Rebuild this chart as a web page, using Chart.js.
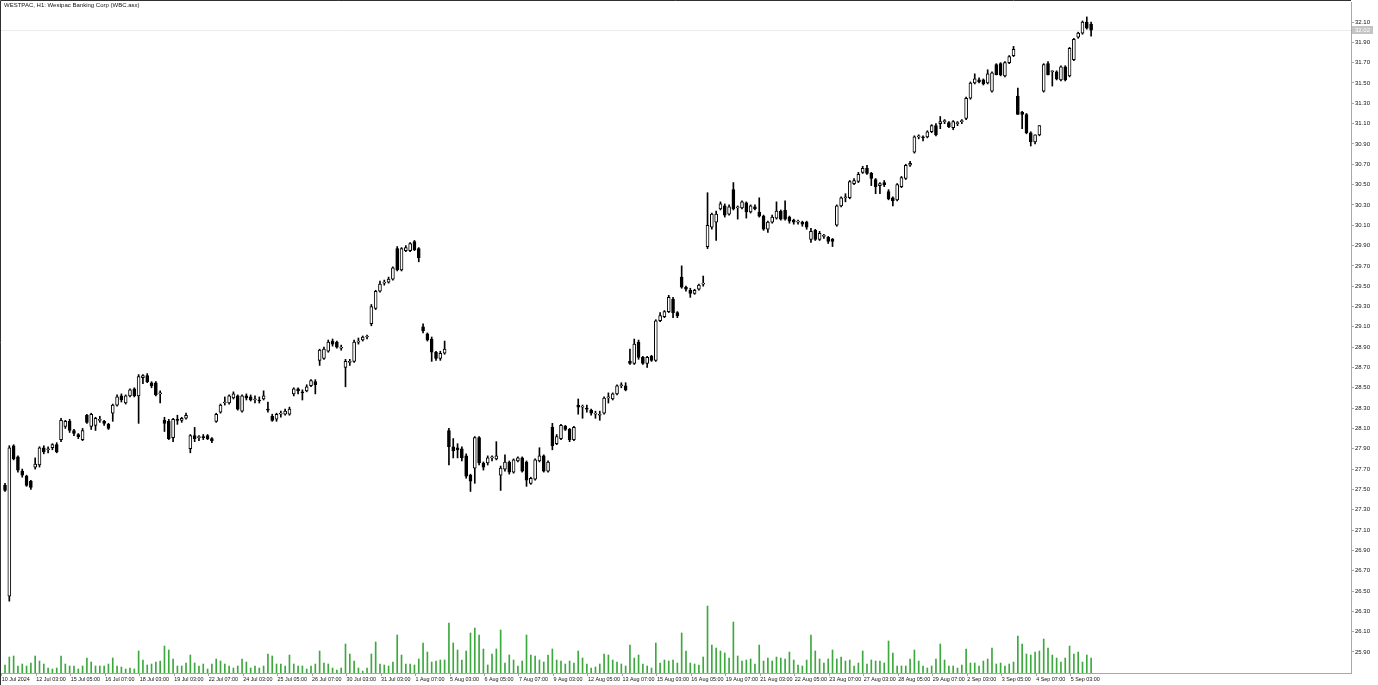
<!DOCTYPE html>
<html>
<head>
<meta charset="utf-8">
<title>WESTPAC, H1</title>
<script src="https://cdn.jsdelivr.net/npm/chart.js@4.4.1/dist/chart.umd.min.js"></script>
<style>
  html, body { margin: 0; padding: 0; background: #fff; overflow: hidden; }
  #wrap { position: relative; width: 1378px; height: 685px; }
  #title { position: absolute; left: 4px; top: 2px; font: 6px "Liberation Sans", Arial, sans-serif; color: #111; white-space: nowrap; }
</style>
</head>
<body>
<div id="wrap">
  <canvas id="chart" width="1378" height="685" style="width:1378px;height:685px"></canvas>
  <div id="title">WESTPAC, H1:  Westpac Banking Corp (WBC.asx)</div>
</div>
<script>
// hourly bars, [open, high, low, close]
const candles = [
  [27.54,27.56,27.48,27.49],[26.45,27.93,26.40,27.91],[27.93,27.94,27.79,27.80],[27.82,27.83,27.67,27.69],
  [27.68,27.70,27.62,27.64],[27.63,27.64,27.53,27.54],[27.58,27.59,27.50,27.52],[27.72,27.81,27.70,27.75],
  [27.74,27.92,27.72,27.91],[27.91,27.93,27.85,27.87],[27.89,27.92,27.86,27.90],[27.91,27.95,27.89,27.94],
  [27.94,27.96,27.86,27.87],[27.99,28.20,27.97,28.18],[28.12,28.18,28.10,28.17],[28.17,28.19,28.06,28.08],
  [28.08,28.09,28.03,28.05],[28.04,28.05,28.00,28.02],[27.99,28.10,27.98,28.08],[28.23,28.24,28.15,28.16],
  [28.12,28.25,28.09,28.24],[28.13,28.21,28.08,28.20],[28.18,28.22,28.16,28.19],[28.17,28.18,28.13,28.15],
  [28.14,28.15,28.09,28.10],[28.25,28.34,28.17,28.33],[28.33,28.43,28.32,28.41],[28.42,28.44,28.36,28.38],
  [28.35,28.43,28.34,28.42],[28.42,28.49,28.41,28.48],[28.49,28.50,28.41,28.42],[28.42,28.63,28.15,28.61],
  [28.60,28.63,28.54,28.62],[28.62,28.64,28.55,28.56],[28.55,28.56,28.50,28.52],[28.55,28.56,28.42,28.43],
  [28.44,28.47,28.35,28.45],[28.18,28.21,28.07,28.15],[28.17,28.19,27.99,28.00],[28.01,28.20,27.97,28.19],
  [28.19,28.23,28.14,28.18],[28.18,28.21,28.16,28.20],[28.20,28.25,28.19,28.23],[27.90,28.04,27.86,28.03],
  [28.03,28.11,27.97,28.00],[28.01,28.03,27.98,28.02],[28.02,28.04,27.99,28.01],[28.03,28.04,27.99,28.00],
  [28.00,28.01,27.96,27.98],[28.17,28.25,28.16,28.24],[28.26,28.34,28.25,28.33],[28.35,28.41,28.33,28.36],
  [28.35,28.43,28.34,28.42],[28.40,28.46,28.39,28.44],[28.42,28.43,28.28,28.29],[28.27,28.43,28.26,28.42],
  [28.42,28.44,28.38,28.40],[28.41,28.43,28.37,28.38],[28.38,28.42,28.35,28.39],[28.38,28.41,28.35,28.37],
  [28.39,28.47,28.38,28.42],[28.29,28.36,28.26,28.28],[28.22,28.24,28.17,28.18],[28.19,28.25,28.17,28.24],
  [28.24,28.27,28.21,28.25],[28.24,28.29,28.23,28.27],[28.24,28.31,28.23,28.29],[28.44,28.50,28.42,28.49],
  [28.49,28.50,28.44,28.47],[28.46,28.48,28.38,28.45],[28.47,28.53,28.46,28.51],[28.52,28.58,28.51,28.57],
  [28.56,28.58,28.44,28.53],[28.77,28.88,28.72,28.87],[28.79,28.90,28.78,28.88],[28.86,28.97,28.85,28.95],
  [28.96,28.98,28.91,28.93],[28.95,28.96,28.89,28.90],[28.89,28.92,28.87,28.90],[28.70,28.78,28.51,28.76],
  [28.75,28.78,28.72,28.76],[28.76,28.97,28.75,28.95],[28.95,28.99,28.93,28.96],[28.97,29.01,28.96,29.00],
  [29.00,29.02,28.98,29.01],[29.13,29.32,29.11,29.30],[29.28,29.46,29.27,29.45],[29.45,29.55,29.44,29.52],
  [29.53,29.56,29.51,29.54],[29.54,29.59,29.53,29.57],[29.57,29.69,29.56,29.68],[29.87,29.89,29.65,29.66],
  [29.66,29.88,29.65,29.87],[29.85,29.90,29.84,29.88],[29.85,29.93,29.84,29.92],[29.94,29.95,29.85,29.86],
  [29.87,29.88,29.74,29.78],[29.10,29.13,29.04,29.06],[29.03,29.04,28.96,28.97],[28.98,29.00,28.76,28.85],
  [28.85,28.86,28.77,28.79],[28.79,28.86,28.77,28.84],[28.84,28.96,28.83,28.88],[28.08,28.10,27.74,27.92],
  [27.92,28.00,27.81,27.88],[27.91,27.95,27.81,27.89],[27.90,27.92,27.78,27.81],[27.83,27.85,27.61,27.63],
  [27.64,27.65,27.48,27.58],[27.71,28.02,27.56,28.01],[28.01,28.02,27.74,27.76],[27.76,27.77,27.69,27.72],
  [27.76,27.83,27.74,27.81],[27.81,27.83,27.78,27.82],[27.80,27.97,27.79,27.83],[27.64,27.73,27.49,27.71],
  [27.70,27.84,27.68,27.77],[27.77,27.78,27.65,27.67],[27.67,27.80,27.66,27.79],[27.78,27.82,27.77,27.81],
  [27.81,27.82,27.67,27.68],[27.77,27.78,27.53,27.59],[27.56,27.62,27.55,27.61],[27.60,27.80,27.59,27.79],
  [27.78,27.91,27.77,27.83],[27.83,27.84,27.67,27.68],[27.68,27.78,27.67,27.77],[28.11,28.15,27.89,27.93],
  [27.95,28.04,27.94,28.02],[28.00,28.14,27.99,28.13],[28.12,28.13,28.08,28.09],[28.09,28.10,27.97,27.99],
  [27.99,28.12,27.98,28.11],[28.33,28.39,28.24,28.31],[28.31,28.33,28.20,28.32],[28.30,28.33,28.26,28.29],
  [28.28,28.29,28.23,28.25],[28.24,28.27,28.20,28.25],[28.23,28.27,28.18,28.24],[28.25,28.41,28.24,28.40],
  [28.40,28.45,28.35,28.41],[28.39,28.45,28.38,28.44],[28.44,28.53,28.43,28.52],[28.52,28.55,28.50,28.53],
  [28.52,28.55,28.47,28.48],[28.76,28.88,28.73,28.74],[28.74,28.98,28.73,28.93],[28.95,28.97,28.78,28.80],
  [28.80,28.81,28.73,28.74],[28.74,28.81,28.70,28.80],[28.81,28.82,28.76,28.77],[28.77,29.17,28.76,29.16],
  [29.16,29.24,29.15,29.21],[29.20,29.26,29.19,29.25],[29.25,29.41,29.24,29.39],[29.37,29.39,29.19,29.24],
  [29.24,29.25,29.19,29.21],[29.59,29.70,29.48,29.49],[29.49,29.50,29.45,29.47],[29.46,29.48,29.39,29.43],
  [29.43,29.47,29.42,29.46],[29.47,29.52,29.46,29.51],[29.52,29.60,29.50,29.53],[29.89,30.42,29.87,30.10],
  [30.08,30.22,30.06,30.21],[30.13,30.24,29.95,30.21],[30.26,30.33,30.25,30.31],[30.29,30.31,30.18,30.20],
  [30.21,30.30,30.20,30.28],[30.45,30.52,30.25,30.26],[30.27,30.29,30.16,30.28],[30.27,30.34,30.26,30.33],
  [30.32,30.33,30.17,30.23],[30.23,30.30,30.22,30.29],[30.28,30.30,30.25,30.26],[30.23,30.37,30.18,30.19],
  [30.19,30.20,30.05,30.06],[30.06,30.14,30.03,30.13],[30.13,30.20,30.12,30.18],[30.17,30.33,30.16,30.24],
  [30.24,30.25,30.15,30.16],[30.25,30.34,30.15,30.16],[30.18,30.19,30.12,30.14],[30.15,30.16,30.11,30.13],
  [30.13,30.15,30.11,30.14],[30.13,30.14,30.09,30.11],[30.13,30.14,30.06,30.08],[29.96,30.07,29.93,30.04],
  [30.05,30.06,29.95,29.96],[29.96,30.04,29.95,30.02],[29.99,30.01,29.97,30.00],[29.98,29.99,29.92,29.94],
  [29.96,29.97,29.89,29.94],[30.10,30.30,30.09,30.29],[30.29,30.38,30.28,30.37],[30.37,30.41,30.33,30.38],
  [30.37,30.54,30.36,30.53],[30.51,30.56,30.50,30.54],[30.53,30.62,30.52,30.60],[30.62,30.68,30.61,30.66],
  [30.66,30.69,30.60,30.61],[30.61,30.62,30.49,30.56],[30.55,30.56,30.41,30.48],[30.49,30.52,30.41,30.51],
  [30.52,30.54,30.48,30.50],[30.43,30.45,30.35,30.36],[30.37,30.38,30.29,30.34],[30.35,30.51,30.34,30.50],
  [30.48,30.58,30.47,30.57],[30.56,30.70,30.55,30.69],[30.69,30.73,30.68,30.71],[30.82,30.98,30.81,30.97],
  [30.97,30.99,30.95,30.98],[30.97,30.98,30.93,30.96],[30.97,31.03,30.96,31.02],[31.02,31.09,31.01,31.08],
  [31.08,31.10,30.98,30.99],[31.10,31.17,31.05,31.12],[31.12,31.14,31.10,31.13],[31.11,31.12,31.06,31.07],
  [31.06,31.13,31.04,31.12],[31.10,31.12,31.08,31.11],[31.12,31.14,31.10,31.13],[31.15,31.36,31.14,31.35],
  [31.35,31.51,31.34,31.50],[31.50,31.59,31.49,31.54],[31.53,31.55,31.50,31.51],[31.53,31.54,31.48,31.49],
  [31.50,31.63,31.49,31.59],[31.42,31.61,31.41,31.60],[31.68,31.69,31.58,31.58],[31.69,31.70,31.57,31.58],
  [31.57,31.71,31.56,31.70],[31.70,31.77,31.69,31.76],[31.77,31.86,31.76,31.83],[31.37,31.45,31.19,31.19],
  [31.21,31.22,31.05,31.19],[31.19,31.20,31.00,31.01],[31.01,31.02,30.88,30.92],[30.92,30.99,30.90,30.99],
  [30.99,31.08,30.98,31.08],[31.42,31.69,31.41,31.68],[31.69,31.71,31.58,31.58],[31.61,31.62,31.47,31.62],
  [31.61,31.62,31.53,31.54],[31.53,31.67,31.52,31.66],[31.66,31.67,31.52,31.53],[31.57,31.85,31.56,31.84],
  [31.73,31.94,31.72,31.93],[31.95,32.00,31.94,31.99],[31.99,32.11,31.98,32.10],[32.10,32.15,32.03,32.04],
  [32.08,32.10,31.96,32.02]
];

// tick volume per bar
const volumes = [
  8,16,17,7,9,7,10,17,12,9, 5,4,5,17,9,7,7,4,7,15, 11,7,7,7,9,15,7,6,4,5,
  4,22,13,8,9,11,12,27,23,14, 7,7,10,18,10,7,9,4,9,14, 12,9,7,5,7,14,11,5,7,5,
  7,19,17,9,9,7,18,9,7,7, 4,7,9,22,10,9,5,3,5,29, 19,12,5,2,5,19,31,9,8,7,
  11,38,18,9,9,8,14,30,21,11, 12,13,13,50,30,
  23,13,22,40,45,38,24,8,19,24, 43,10,18,13,7,12,38,18,17,13, 11,18,24,13,12,9,12,10,22,15,
  9,5,6,9,19,18,13,11,9,7, 28,15,18,9,7,5,30,10,13,12, 13,10,40,22,10,9,8,16,67,28,
  25,22,20,15,51,17,12,13,14,9, 28,12,15,12,16,15,14,21,13,8, 7,13,38,22,14,10,14,23,14,16,
  12,13,7,10,22,9,13,12,
  12,10,32,20,7,7,7,14,23,12, 7,5,7,14,29,13,7,7,5,8, 24,10,10,7,12,14,25,9,10,7,
  9,11,37,29,19,18,21,22,34,25, 18,15,11,15,27,19,21,11,18,15
];

const timeLabels = [
  "10 Jul 2024","12 Jul 03:00","15 Jul 05:00","16 Jul 07:00","18 Jul 03:00","19 Jul 03:00",
  "22 Jul 07:00","24 Jul 03:00","25 Jul 05:00","26 Jul 07:00","30 Jul 03:00","31 Jul 03:00",
  "1 Aug 07:00","5 Aug 03:00","6 Aug 05:00","7 Aug 07:00","9 Aug 03:00","12 Aug 05:00",
  "13 Aug 07:00","15 Aug 03:00","16 Aug 05:00","19 Aug 07:00","21 Aug 03:00","22 Aug 05:00",
  "23 Aug 07:00","27 Aug 03:00","28 Aug 05:00","29 Aug 07:00","2 Sep 03:00","3 Sep 05:00",
  "4 Sep 07:00","5 Sep 03:00"
];

const priceTicks = [
  32.10,31.90,31.70,31.50,31.30,31.10,30.90,30.70,30.50,30.30,30.10,29.90,29.70,29.50,29.30,29.10,
  28.90,28.70,28.50,28.30,28.10,27.90,27.70,27.50,27.30,27.10,26.90,26.70,26.50,26.30,26.10,25.90
];

const BARS_PER_LABEL = 8;
const axisGray = "#a8a8a8";

const bodyData = candles.map((c, i) => ({ x: i, y: [c[0], c[3]] }));
const wickData = candles.map((c, i) => ({ x: i, y: [c[2], c[1]] }));
const bodyFill = candles.map(c => (c[3] >= c[0] ? "#ffffff" : "#000000"));
const volData = volumes.map((v, i) => ({ x: i, y: v }));
const lastClose = candles[candles.length - 1][3];

// MT-style frame, bid line and price tag
const terminalLook = {
  id: "terminalLook",
  beforeDraw(chart) {
    const ctx = chart.ctx;
    ctx.save();
    ctx.fillStyle = "#fff";
    ctx.fillRect(0, 0, chart.width, chart.height);
    ctx.restore();
  },
  beforeDatasetsDraw(chart) {
    const { ctx, chartArea: a, scales: { y } } = chart;
    const py = Math.round(y.getPixelForValue(lastClose)) + 0.5;
    ctx.save();
    ctx.strokeStyle = "#ececec";
    ctx.lineWidth = 1;
    ctx.beginPath();
    ctx.moveTo(a.left, py);
    ctx.lineTo(a.right, py);
    ctx.stroke();
    ctx.restore();
  },
  afterDraw(chart) {
    const { ctx, chartArea: a, scales: { y } } = chart;
    ctx.save();
    ctx.strokeStyle = "#303030";
    ctx.lineWidth = 1;
    ctx.beginPath();
    ctx.moveTo(0.5, chart.height);
    ctx.lineTo(0.5, 0.5);
    ctx.lineTo(a.right, 0.5);
    ctx.stroke();
    const py = Math.round(y.getPixelForValue(lastClose));
    ctx.fillStyle = "#c4c4c4";
    ctx.fillRect(a.right + 1, py - 4, 21, 8);
    ctx.fillStyle = "#ffffff";
    ctx.font = "6px 'Liberation Sans'";
    ctx.textBaseline = "middle";
    ctx.fillText(lastClose.toFixed(2), a.right + 4, py);
    ctx.restore();
  }
};

new Chart(document.getElementById("chart"), {
  type: "bar",
  data: {
    datasets: [
      {
        label: "Body",
        data: bodyData,
        backgroundColor: bodyFill,
        borderColor: "#000",
        borderWidth: 1,
        borderSkipped: false,
        barThickness: 3,
        minBarLength: 1,
        grouped: false,
        order: 1,
        yAxisID: "y"
      },
      {
        label: "Wick",
        data: wickData,
        backgroundColor: "#000",
        barThickness: 1,
        grouped: false,
        order: 2,
        yAxisID: "y"
      },
      {
        label: "Volume",
        data: volData,
        backgroundColor: "#3da83d",
        barThickness: 1,
        grouped: false,
        order: 3,
        yAxisID: "yv"
      }
    ]
  },
  options: {
    responsive: false,
    animation: false,
    devicePixelRatio: 1,
    layout: { padding: { top: 2, left: 1, right: 0, bottom: 0 } },
    plugins: { legend: { display: false }, tooltip: { enabled: false } },
    scales: {
      x: {
        type: "linear",
        offset: false,
        min: -0.93,
        max: 312.3,
        grid: { drawOnChartArea: false, offset: false, tickLength: 3, color: axisGray },
        border: { color: axisGray },
        ticks: {
          autoSkip: false,
          maxRotation: 0,
          align: "start",
          padding: 0,
          font: { family: "Liberation Sans", size: 5.4 },
          color: "#111",
          callback: (v, i) => timeLabels[i]
        },
        afterBuildTicks: s => {
          s.ticks = timeLabels.map((_, j) => ({ value: j * BARS_PER_LABEL - 0.75 }));
        },
        afterFit: s => { s.height = 12; s.paddingLeft = 0; s.paddingRight = 0; }
      },
      y: {
        type: "linear",
        position: "right",
        min: 25.693,
        max: 32.297,
        grid: { drawOnChartArea: false, tickLength: 3, color: axisGray },
        border: { color: axisGray },
        ticks: { padding: 1, font: { family: "Liberation Sans", size: 6 }, color: "#111", callback: v => v.toFixed(2) },
        afterBuildTicks: s => { s.ticks = priceTicks.map(v => ({ value: v })); },
        afterFit: s => { s.width = 27; s.paddingTop = 0; s.paddingBottom = 0; }
      },
      yv: { type: "linear", display: false, min: 0, max: 671 }
    }
  },
  plugins: [terminalLook]
});
</script>
</body>
</html>
